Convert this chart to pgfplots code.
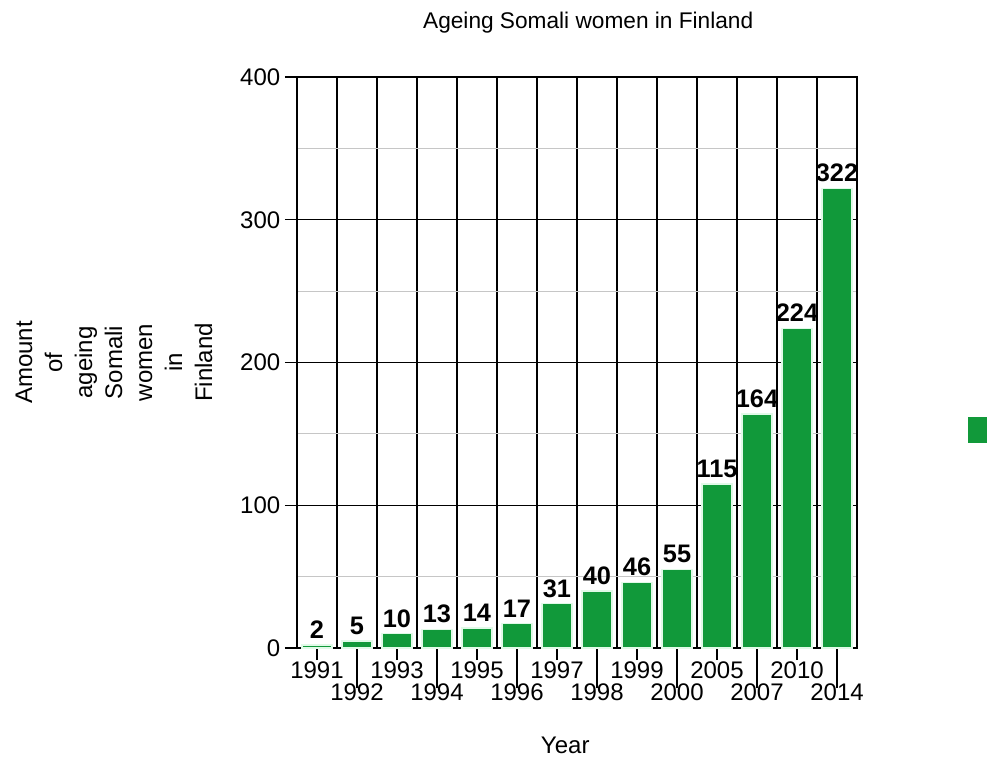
\documentclass[border=0pt]{standalone}
\usepackage{pgfplots}
\pgfplotsset{compat=1.18}
\usepackage{fontspec}
\setmainfont{Liberation Sans}
\definecolor{bargreen}{RGB}{17,153,58}
\definecolor{barline}{RGB}{225,250,232}
\begin{document}
\begin{tikzpicture}
\path[use as bounding box] (-222.75pt,-84pt) rectangle (517.5pt,486pt);
\begin{axis}[
  at={(0pt,0pt)}, anchor=south west,
  width=420pt, height=428.25pt, scale only axis,
  ymin=0, ymax=400, xmin=-0.5, xmax=13.5,
  ytick={0,100,200,300,400},
  minor ytick={50,150,250,350},
  xtick={0,2,4,6,8,10,12},
  xticklabels={1991,1993,1995,1997,1999,2005,2010},
  xticklabel style={yshift=2pt},
  extra x ticks={1,3,5,7,9,11,13},
  extra x tick labels={1992,1994,1996,1998,2000,2007,2014},
  extra x tick style={major tick length=30pt, xticklabel style={yshift=5pt}},
  minor xtick={0.5,1.5,...,12.5},
  ymajorgrids, yminorgrids, xminorgrids,
  major grid style={black, line width=1.1pt},
  minor x grid style={black, line width=1.1pt},
  minor y grid style={gray!45, line width=0.8pt},
  minor tick length=0pt,
  major tick length=9pt,
  tick align=outside,
  xtick pos=bottom, ytick pos=left,
  tick style={black, line width=0.9pt},
  axis line style={black, line width=1.4pt},
  tick label style={font=\fontsize{18}{21}\selectfont},
  /pgf/number format/assume math mode=true,
  ybar, bar width=22.5pt,
  nodes near coords,
  nodes near coords style={font=\fontsize{19}{22}\selectfont\bfseries, yshift=1pt},
  title={Ageing Somali women in Finland},
  title style={at={(0.52,1)}, anchor=center, yshift=35pt, font=\fontsize{17}{20}\selectfont},
  xlabel={Year},
  xlabel style={at={(0.479,0)}, anchor=center, yshift=-72.75pt, font=\fontsize{18}{21}\selectfont},
  ylabel={Amount\\of\\ageing\\Somali\\women\\in\\Finland},
  ylabel style={at={(axis description cs:-0.3268,0.5)}, anchor=center, align=center, font=\fontsize{18}{22.5}\selectfont},
  legend style={at={(1.198,0.3818)}, anchor=west, draw=none, fill=none, inner sep=0pt, font=\tiny},
]
\addplot[fill=bargreen, draw=barline, line width=1pt,
  legend image code/.code={\fill[bargreen] (0pt,-9pt) rectangle (21pt,9pt);}]
  coordinates {(0,2)(1,5)(2,10)(3,13)(4,14)(5,17)(6,31)(7,40)(8,46)(9,55)(10,115)(11,164)(12,224)(13,322)};
\addlegendentry{}
\end{axis}
\end{tikzpicture}
\end{document}
